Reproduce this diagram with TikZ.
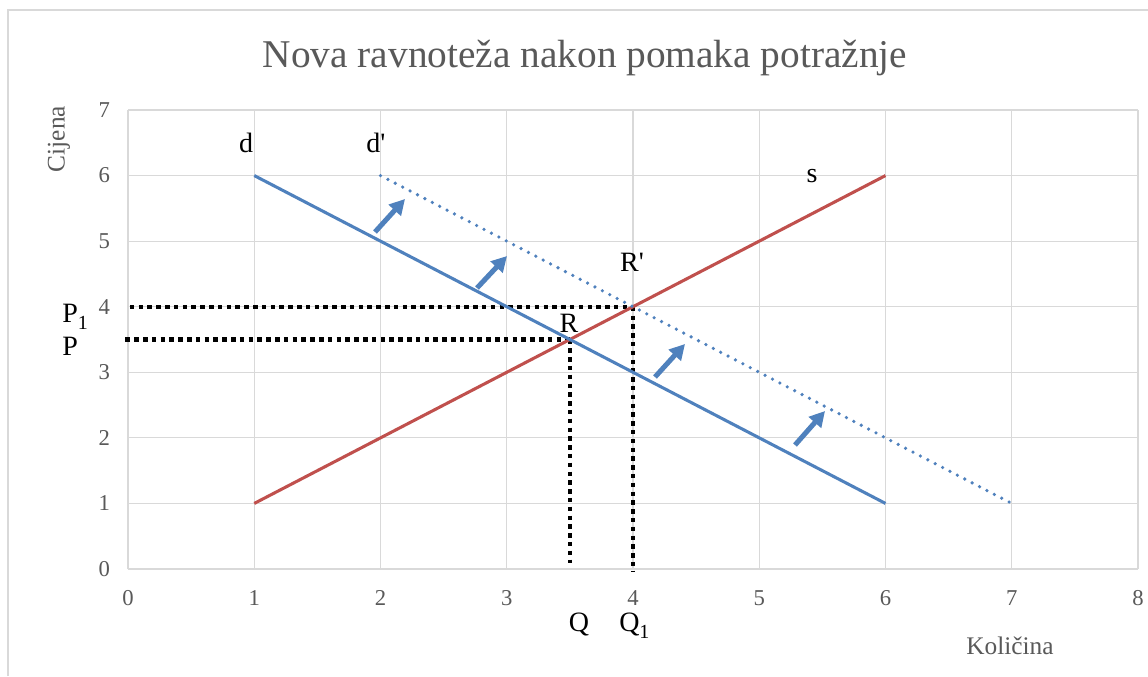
\documentclass[tikz,border=0pt]{standalone}
\usepackage{fontspec}
\setmainfont{Liberation Serif}
\usetikzlibrary{arrows.meta}
\definecolor{gridc}{HTML}{D9D9D9}
\definecolor{txtc}{HTML}{595959}
\definecolor{blu}{HTML}{4F81BD}
\definecolor{rd}{HTML}{C0504D}
\newcommand{\subone}{\raisebox{-0.28em}{\fontsize{15}{15}\selectfont 1}}
\begin{document}
\begin{tikzpicture}[x=0.75pt,y=-0.75pt,
  gridline/.style={gridc, line width=0.9pt},
  ticklab/.style={txtc, inner sep=0pt, font=\fontsize{17}{17}\selectfont},
  axtitle/.style={txtc, inner sep=0pt, font=\fontsize{19}{19}\selectfont},
  lab/.style={black, inner sep=0pt, font=\fontsize{21}{21}\selectfont},
  curve/.style={line width=2.3pt},
  blackdot/.style={black, line width=3.2pt, dash pattern=on 3.4pt off 3.2pt},
  bluedot/.style={blu, line width=2.7pt, line cap=round, dash pattern=on 0pt off 6.25pt},
  shiftarrow/.style={blu, line width=3.75pt, -{Triangle[length=11.5pt,width=12pt]}}
]
\useasboundingbox (0,0) rectangle (1148,676);
\fill[white] (0,0) rectangle (1148,676);
% chart frame
\draw[gridline] (8,676) -- (8,10) -- (1148,10);
% title
\node[txtc, inner sep=0pt, anchor=base, font=\fontsize{29.5}{29.5}\selectfont] (title) at (585,67) {Nova ravnoteža nakon pomaka potražnje};
% axis titles
\node[axtitle, rotate=90] (ytitle) at (59,139) {Cijena};
\node[axtitle, anchor=base] (xtitle) at (1010,654) {Količina};

\begin{scope}[shift={(128,569)}, x=94.6875pt, y=49.18pt]
  \foreach \i in {0,...,8} \draw[gridline] (\i,0) -- (\i,7);
  \foreach \j in {0,...,7} \draw[gridline] (0,\j) -- (8,\j);
  \foreach \i in {0,...,8} \node[ticklab, anchor=base] (xt\i) at (\i,-0.56) {\i};
  \foreach \j in {0,...,7} \node[ticklab, anchor=east] (yt\j) at (-0.14,\j) {\j};

  \coordinate (d1) at (1,6);
  \coordinate (d2) at (6,1);
  \coordinate (dp1) at (2,6);
  \coordinate (dp2) at (7,1);
  \coordinate (s1) at (1,1);
  \coordinate (s2) at (6,6);
  \coordinate (R) at (3.5,3.5);
  \coordinate (Rp) at (4,4);
  \coordinate (pL) at (-0.02,3.5);
  \coordinate (p1L) at (0.015,4);
  \coordinate (qB) at (3.5,0.09);
  \coordinate (q1B) at (4,-0.05);

  % dotted guide lines
  \draw[blackdot] (p1L) -- (Rp);
  \draw[blackdot] (pL) -- (R);
  \draw[blackdot] (R) -- (qB);
  \draw[blackdot] (Rp) -- (q1B);

  % curves
  \draw[curve, rd] (s1) -- (s2);
  \draw[curve, blu] (d1) -- (d2);
  \draw[bluedot] (dp1) -- (dp2);
\end{scope}

% shift arrows
\coordinate (a1s) at (375,232); \coordinate (a1e) at (405,199);
\coordinate (a2s) at (477,288); \coordinate (a2e) at (507,256);
\coordinate (a3s) at (655,377); \coordinate (a3e) at (685,344);
\coordinate (a4s) at (795,445); \coordinate (a4e) at (825,411);
\draw[shiftarrow] (a1s) -- (a1e);
\draw[shiftarrow] (a2s) -- (a2e);
\draw[shiftarrow] (a3s) -- (a3e);
\draw[shiftarrow] (a4s) -- (a4e);

% labels
\node[lab, anchor=base] (ld) at (246,152) {d};
\node[lab, anchor=base] (ldp) at (376,152) {d\textquotesingle};
\node[lab, anchor=base] (ls) at (812,182) {s};
\node[lab, anchor=base] (lRp) at (632,271) {R\textquotesingle};
\node[lab, anchor=base] (lR) at (569,332) {R};
\node[lab, anchor=base west] (lP1) at (62,322) {P\subone};
\node[lab, anchor=base west] (lP) at (62,355) {P};
\node[lab, anchor=base] (lQ) at (579,631) {Q};
\node[lab, anchor=base west] (lQ1) at (619,631) {Q\subone};
\end{tikzpicture}
\end{document}
